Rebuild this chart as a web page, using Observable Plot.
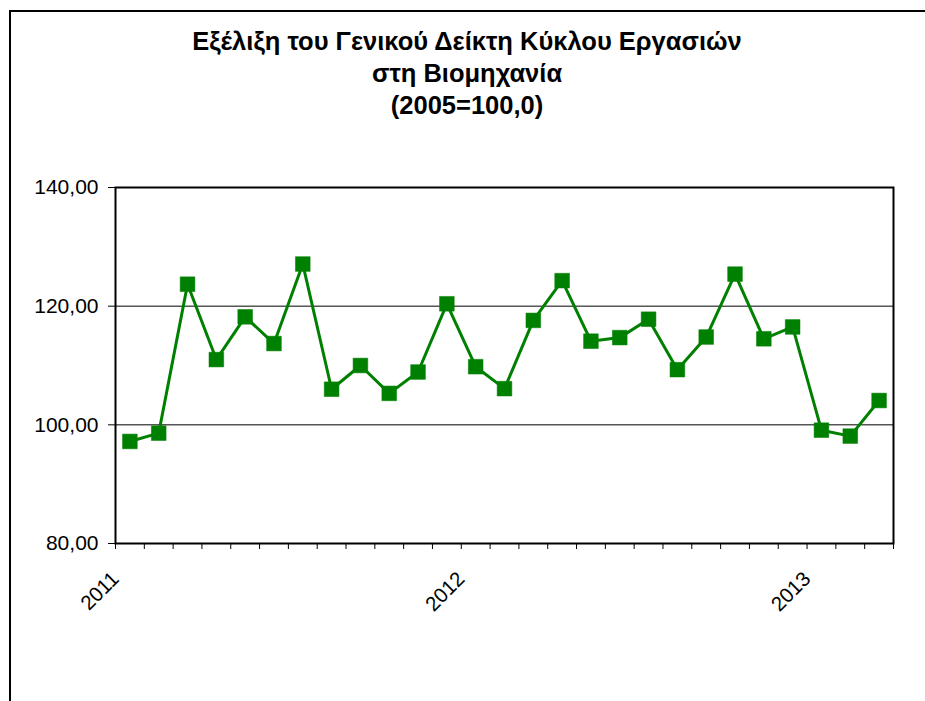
<!DOCTYPE html>
<html>
<head>
<meta charset="utf-8">
<script src="https://cdn.jsdelivr.net/npm/d3@7"></script>
<script src="https://cdn.jsdelivr.net/npm/@observablehq/plot@0.6"></script>
<style>
  html, body { margin: 0; padding: 0; background: #fff; }
  #wrap { position: relative; width: 925px; height: 701px; overflow: hidden; font-family: "Liberation Sans", Arial, sans-serif; background: #fff; }
  #border { position: absolute; left: 9px; top: 10px; width: 1000px; height: 1000px; border-top: 2px solid #000; border-left: 2px solid #000; z-index: 5; pointer-events: none; }
  #title { position: relative; height: 150px; box-sizing: border-box; padding-left: 9px; padding-top: 25px; text-align: center; font-weight: bold; font-size: 25.5px; line-height: 32px; color: #000; }
  #chart { position: relative; }
  #chart svg { background: transparent !important; }
</style>
</head>
<body>
<div id="wrap">
  <div id="border"></div>
  <div id="title">Εξέλιξη του Γενικού Δείκτη Κύκλου Εργασιών<br>στη Βιομηχανία<br>(2005=100,0)</div>
  <div id="chart"></div>
</div>
<script>
const months = ["2011-01","2011-02","2011-03","2011-04","2011-05","2011-06","2011-07","2011-08","2011-09","2011-10","2011-11","2011-12",
                "2012-01","2012-02","2012-03","2012-04","2012-05","2012-06","2012-07","2012-08","2012-09","2012-10","2012-11","2012-12",
                "2013-01","2013-02","2013-03"];
const values = [97.2, 98.6, 123.7, 111.0, 118.2, 113.7, 127.1, 106.0, 110.0, 105.3, 108.9, 120.4,
                109.8, 106.1, 117.6, 124.3, 114.1, 114.7, 117.8, 109.3, 114.8, 125.4, 114.5, 116.5,
                99.1, 98.1, 104.1];
const yearLabels = ["2011", "2012", "2013"];
const yearTickIndex = [0, 12, 24];
const yTicks = [80, 100, 120, 140];
const gridValues = [100, 120];

const data = months.map((m, i) => ({month: m, idx: i + 0.5, value: values[i]}));
const green = "#008000";

const chart = Plot.plot({
  width: 925,
  height: 551,
  marginLeft: 115,
  marginRight: 32,
  marginTop: 37,
  marginBottom: 158,
  style: {fontFamily: "'Liberation Sans', Arial, sans-serif", fontSize: "20px", color: "#000", background: "transparent"},
  x: {type: "linear", domain: [0, months.length]},
  y: {domain: [80, 140]},
  marks: [
    Plot.ruleY(gridValues, {stroke: "#000", strokeWidth: 1}),
    Plot.axisY({ticks: yTicks, tickFormat: d => d.toFixed(2).replace(".", ","), tickSize: 7, tickPadding: 10, fontSize: 21, stroke: "#000", strokeOpacity: 1, label: null}),
    Plot.axisX({ticks: d3.range(months.length + 1), tickFormat: () => "", tickSize: 6, stroke: "#000", strokeOpacity: 1, label: null}),
    Plot.axisX({ticks: yearTickIndex, tickFormat: d => yearLabels[yearTickIndex.indexOf(d)], tickSize: 0, tickPadding: 32, tickRotate: -45, fontSize: 20.5, label: null}),
    Plot.frame({stroke: "#000", strokeWidth: 2}),
    Plot.line(data, {x: "idx", y: "value", stroke: green, strokeWidth: 3}),
    Plot.dot(data, {x: "idx", y: "value", symbol: "square", r: 8.3, fill: green, stroke: green, strokeWidth: 0.5})
  ]
});
document.getElementById("chart").appendChild(chart);
</script>
</body>
</html>
